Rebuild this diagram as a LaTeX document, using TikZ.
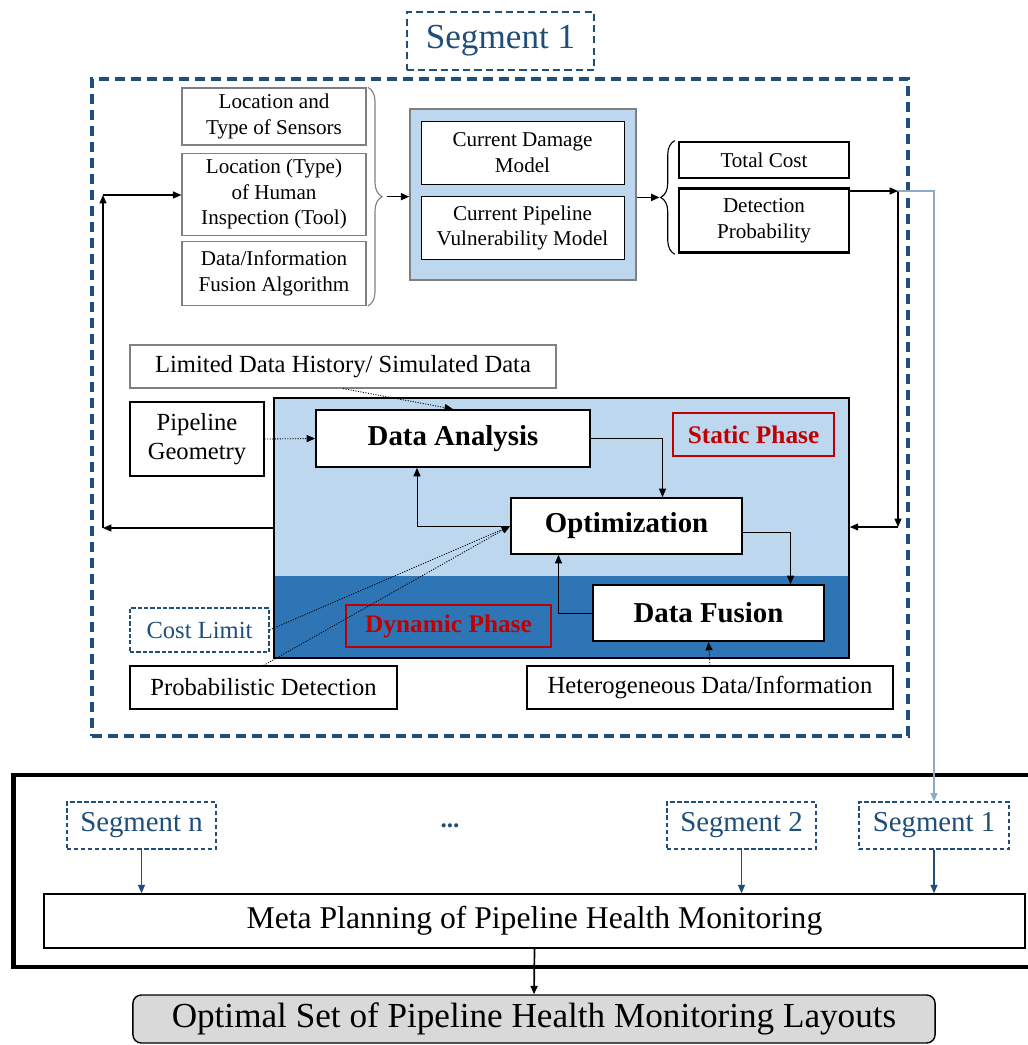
\documentclass[tikz,border=0pt]{standalone}
\usepackage{fontspec}
\setmainfont{Liberation Serif}
\usepackage{xcolor}
\usepackage{tikz}
\usetikzlibrary{positioning, arrows.meta, decorations.pathreplacing, calc}

\definecolor{segblue}{HTML}{1F4E79}
\definecolor{seglink}{HTML}{8FAAC8}
\definecolor{phlight}{HTML}{BDD7EE}
\definecolor{phdark}{HTML}{2E75B6}
\definecolor{phred}{HTML}{C00000}
\definecolor{boxgray}{HTML}{808080}

\begin{document}
\begin{tikzpicture}[
    x=0.025cm, y=-0.025cm,
    box/.style={draw, fill=white, inner sep=1pt, align=center, font=\fontsize{15}{18}\selectfont},
    graybox/.style={box, draw=boxgray, line width=0.8pt},
    outbox/.style={box, line width=2pt},
    midbox/.style={box, line width=0.8pt, font=\fontsize{17.5}{21}\selectfont},
    stepbox/.style={box, line width=1.2pt, font=\bfseries\fontsize{20.5}{24}\selectfont},
    phase/.style={draw=phred, line width=1pt, text=phred, font=\bfseries\fontsize{18}{21}\selectfont},
    panel/.style={draw, line width=1pt, fill=phlight,
                  path picture={\fill[phdark] (path picture bounding box.south west)
                      rectangle ([yshift=2.05cm]path picture bounding box.south east);}},
    segframe/.style={draw=segblue, line width=2.8pt, dash pattern=on 0.25cm off 0.15cm},
    segtitle/.style={draw=segblue, line width=1.8pt, dash pattern=on 5pt off 3pt, text=segblue,
                     font=\fontsize{25}{30}\selectfont},
    segbox/.style={draw=segblue, densely dashed, line width=0.8pt, text=segblue, fill=white,
                   font=\fontsize{20.5}{24}\selectfont},
    costbox/.style={segbox, dash pattern=on 3pt off 1.5pt, font=\fontsize{17.5}{21}\selectfont},
    arr/.style={-{Triangle[length=6pt, width=5pt]}, line width=0.8pt},
    dotarr/.style={arr, densely dotted, line width=0.6pt},
    segarr/.style={arr, segblue},
    link/.style={arr, seglink},
    brc/.style={decorate, decoration={brace, amplitude=10pt}, line width=0.8pt},
]
\useasboundingbox (0,0) rectangle (1027,1045);

% --- Segment 1 frame ---
\node[segframe, minimum width=20.4cm, minimum height=16.425cm] (frame) at (500,407.5) {};
\node[segtitle, fill=white, minimum width=4.675cm, minimum height=1.45cm] (segtop) at (500.5,41) {Segment 1};

% --- Layout inputs ---
\node[graybox, minimum width=4.6cm, minimum height=1.425cm] (sens) at (274,116.5)
    {Location and\\Type of Sensors};
\node[graybox, below=0.175cm of sens, minimum width=4.6cm, minimum height=2.05cm] (human)
    {Location (Type)\\of Human\\Inspection (Tool)};
\node[graybox, below=0.125cm of human, minimum width=4.6cm, minimum height=1.6cm] (fusalg)
    {Data/Information\\Fusion Algorithm};

% --- Current models ---
\node[draw=boxgray, fill=phlight, line width=1pt, minimum width=5.65cm, minimum height=4.275cm] (models) at (523,194.5) {};
\node[box, minimum width=5.075cm, minimum height=1.575cm] (dmg) at (522.5,152.5)
    {Current Damage\\Model};
\node[box, below=0.3cm of dmg, minimum width=5.075cm, minimum height=1.575cm] (vul)
    {Current Pipeline\\Vulnerability Model};

% --- Outputs ---
\node[outbox, minimum width=4.25cm, minimum height=0.9cm] (cost) at (764,160) {Total Cost};
\node[outbox, below=0.2cm of cost, minimum width=4.25cm, minimum height=1.6cm] (detect)
    {Detection\\Probability};

% --- Braces ---
\draw[brc, boxgray] ([xshift=1pt]sens.north east) -- ([xshift=1pt]fusalg.south east);
\coordinate (btip) at ([xshift=0.5cm]$(sens.north east)!0.5!(fusalg.south east)$);
\draw[brc] ([xshift=-2pt]detect.south west) -- ([xshift=-2pt]cost.north west);
\coordinate (btip2) at ([xshift=-0.45cm]$(detect.south west)!0.5!(cost.north west)$);

% --- Planning panel ---
\node[box, draw=boxgray, line width=0.8pt, font=\fontsize{17.5}{21}\selectfont,
      minimum width=10.65cm, minimum height=1.075cm] (hist) at (343,366.5)
    {Limited Data History/ Simulated Data};
\node[midbox, minimum width=3.35cm, minimum height=1.85cm] (geom) at (197,439) {Pipeline\\Geometry};
\node[panel, minimum width=14.375cm, minimum height=6.5cm] (panel) at (561.5,528) {};
\node[stepbox, minimum width=6.85cm, minimum height=1.425cm] (da) at (453,438.5) {Data Analysis};
\node[phase, minimum width=4.025cm, minimum height=1.075cm] (static) at (753.5,434.5) {Static Phase};
\node[stepbox, minimum width=5.775cm, minimum height=1.4cm] (opt) at (626.5,526) {Optimization};
\node[stepbox, minimum width=5.775cm, minimum height=1.4cm] (fus) at (708.5,613) {Data Fusion};
\node[phase, minimum width=5.125cm, minimum height=1.05cm] (dyn) at (448.5,626) {Dynamic Phase};
\node[costbox, minimum width=3.475cm, minimum height=1.1cm] (costlim) at (199.5,630) {Cost Limit};
\node[midbox, minimum width=6.675cm, minimum height=1.075cm] (prob) at (263.5,687.5) {Probabilistic Detection};
\node[midbox, minimum width=9.15cm, minimum height=1.075cm] (hetero) at (710,687.5) {Heterogeneous Data/Information};

% --- Meta planning ---
\node[draw, line width=3.5pt, minimum width=25.775cm, minimum height=4.8cm] (metaframe) at (529.5,871) {};
\node[segbox, minimum width=3.725cm, minimum height=1.175cm] (segn) at (141.5,825.5) {Segment n};
\node[segbox, minimum width=3.725cm, minimum height=1.175cm] (seg2) at (741.5,825.5) {Segment 2};
\node[segbox, minimum width=3.75cm, minimum height=1.175cm] (seg1) at (934,825.5) {Segment 1};
\node[text=segblue, font=\bfseries\fontsize{18}{20}\selectfont] (dots) at (450,826) {...};
\node[box, line width=1pt, minimum width=24.525cm, minimum height=1.35cm, font=\fontsize{22.5}{26}\selectfont] (meta)
    at (534.5,921) {Meta Planning of Pipeline Health Monitoring};
\node[draw, fill=gray!30, rounded corners=6pt, line width=1pt, minimum width=20.05cm, minimum height=1.2cm,
      font=\fontsize{25}{30}\selectfont] (optimal) at (534,1019) {Optimal Set of Pipeline Health Monitoring Layouts};

% --- Arrows: top row ---
\draw[arr, line width=1.2pt] (btip) -- (btip -| models.west);
\draw[arr, line width=1.2pt] (models.east |- btip2) -- (btip2);

% --- Arrows: feedback loops ---
\coordinate (rj) at (898,191);
\coordinate (rb) at (898,527);
\draw[arr] (rj -| detect.east) -- (rj);
\draw[arr] (rj) -- (rb);
\draw[arr] (rb) -- (rb -| panel.east);
\draw[link] (rj) -| (seg1.north);
\coordinate (lt) at (103,195);
\coordinate (lb) at (103,528);
\draw[arr] (panel.west |- lb) -- (lb);
\draw[arr] (lb) -- (lt);
\draw[arr] (lt) -- (lt -| human.west);

% --- Arrows: planning panel ---
\draw[dotarr] (geom.east) -- (da.west);
\draw[dotarr] (hist.south) -- (da.north);
\draw[arr, line width=0.6pt] (da.east) -| ([xshift=0.9cm]opt.north);
\draw[arr, line width=0.6pt] (opt.west) -| ([xshift=-0.9cm]da.south);
\draw[arr, line width=0.6pt] ([yshift=-0.15cm]opt.east) -| ([xshift=2.05cm]fus.north);
\draw[arr, line width=0.6pt] (fus.west) -| ([xshift=-1.7cm]opt.south);
\draw[dotarr] (hetero.north) -- (fus.south);
\draw[dotarr] (costlim.east) -- (opt.west);
\draw[dotarr] (prob.north) -- (opt.west);

% --- Arrows: meta planning ---
\draw[segarr] (segn.south) -- (segn.south |- meta.north);
\draw[segarr] (seg2.south) -- (seg2.south |- meta.north);
\draw[segarr] (seg1.south) -- (seg1.south |- meta.north);
\draw[arr, line width=1.2pt] (meta.south) -- (optimal.north);

\end{tikzpicture}
\end{document}
